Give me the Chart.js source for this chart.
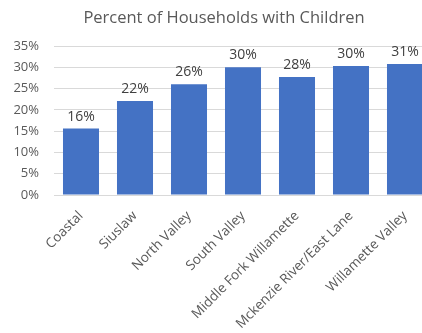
<!DOCTYPE html>
<html>
<head>
<meta charset="utf-8">
<script src="https://cdn.jsdelivr.net/npm/chart.js@4"></script>
<style>
  html, body { margin: 0; padding: 0; background: #fff; overflow: hidden; }
  #wrap { width: 448px; height: 333px; }
</style>
</head>
<body>
<div id="wrap"><canvas id="chart" width="448" height="333"></canvas></div>
<script>
// === DADOS ===
const chartTitle = "Percent of Households with Children";
const areas = ["Coastal", "Siuslaw", "North Valley", "South Valley", "Middle Fork Willamette", "Mckenzie River/East Lane", "Willamette Valley"];
const percents = [15.6, 22.1, 26.0, 30.0, 27.7, 30.3, 30.8];
const yTicks = [0, 5, 10, 15, 20, 25, 30, 35];

const FONT = "'Open Sans', 'Noto Sans', sans-serif";

// título centrado na largura total do gráfico (parte dela fica fora da janela)
const titlePlugin = {
  id: "titlePlugin",
  afterDraw(chart) {
    const ctx = chart.ctx;
    ctx.save();
    ctx.font = "16.5px " + FONT;
    ctx.fillStyle = "#595959";
    ctx.textAlign = "center";
    ctx.textBaseline = "middle";
    ctx.fillText(chartTitle, 224, 18);
    ctx.restore();
  }
};

// rótulos de valor acima das barras
const valueLabels = {
  id: "valueLabels",
  afterDatasetsDraw(chart) {
    const ctx = chart.ctx;
    const meta = chart.getDatasetMeta(0);
    ctx.save();
    ctx.font = "14px " + FONT;
    ctx.fillStyle = "#404040";
    ctx.textAlign = "center";
    ctx.textBaseline = "bottom";
    meta.data.forEach((bar, i) => {
      ctx.fillText(Math.round(percents[i]) + "%", bar.x, bar.y - 5);
    });
    ctx.restore();
  }
};

new Chart(document.getElementById("chart"), {
  type: "bar",
  data: {
    labels: areas,
    datasets: [{
      data: percents,
      backgroundColor: "#4472C4",
      categoryPercentage: 1,
      barPercentage: 0.667
    }]
  },
  options: {
    responsive: false,
    animation: false,
    layout: { padding: { left: 0, right: 16, top: 46, bottom: 0 } },
    plugins: {
      legend: { display: false },
      tooltip: { enabled: false },
      title: { display: false }
    },
    scales: {
      x: {
        grid: { display: false },
        border: { display: false },
        ticks: {
          color: "#595959",
          font: { family: FONT, size: 13.5 },
          minRotation: 45,
          maxRotation: 45,
          padding: 5
        },
        afterFit(scale) { scale.height = 138; }
      },
      y: {
        min: 0,
        max: 35,
        afterBuildTicks(scale) { scale.ticks = yTicks.map(v => ({ value: v })); },
        grid: { color: "#d9d9d9", drawTicks: false },
        border: { display: false },
        ticks: {
          color: "#595959",
          font: { family: FONT, size: 13 },
          padding: 15,
          callback: v => v + "%"
        },
        afterFit(scale) { scale.width = 54; }
      }
    }
  },
  plugins: [valueLabels, titlePlugin]
});
</script>
</body>
</html>
